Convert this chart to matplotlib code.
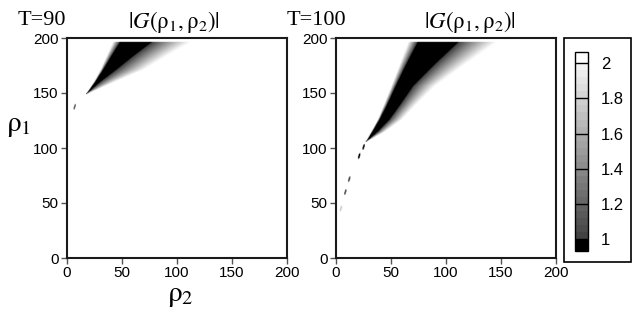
import numpy as np
import matplotlib
matplotlib.use("Agg")
import matplotlib.pyplot as plt
from matplotlib.colors import ListedColormap, BoundaryNorm, LinearSegmentedColormap, Normalize
from matplotlib.cm import ScalarMappable
from matplotlib.patches import Rectangle

plt.rcParams['font.family'] = ['Liberation Sans', 'DejaVu Sans']
plt.rcParams['mathtext.fontset'] = 'stix'

# ---- data ----
# T = 90 panel: wedge edges (rho2) at given rho1 levels
rho1_90 = [148.8, 160.0, 171.5, 184.0, 196.4]
fade_l_90 = [17.3, 24.5, 30.6, 36.0, 41.5]
black_l_90 = [17.3, 25.5, 33.0, 40.5, 48.2]
black_r_90 = [17.3, 30.0, 45.0, 60.5, 77.0]
fade_r_90 = [17.3, 44.0, 72.0, 93.0, 115.0]
# isolated flecks: rho2, rho1, value
fleck_r2_90 = [7.0]
fleck_r1_90 = [137.5]
fleck_v_90 = [1.15]

# T = 100 panel
rho1_100 = [105.5, 115.0, 126.0, 140.0, 156.4, 175.0, 196.4]
fade_l_100 = [27.0, 32.0, 37.9, 43.5, 50.0, 57.0, 65.0]
black_l_100 = [27.0, 33.0, 39.4, 46.5, 54.0, 63.0, 74.0]
black_r_100 = [27.0, 38.0, 48.5, 58.5, 69.7, 88.0, 110.6]
fade_r_100 = [27.0, 45.0, 60.6, 74.0, 91.0, 117.0, 148.0]
fleck_r2_100 = [25.0, 21.0, 12.0, 8.5, 4.5]
fleck_r1_100 = [101.0, 92.7, 71.8, 60.0, 45.0]
fleck_v_100 = [0.95, 0.95, 1.05, 1.05, 1.75]

titles = ['T=90', 'T=100']
ticks = [0, 50, 100, 150, 200]
cbar_ticks = [1, 1.2, 1.4, 1.6, 1.8, 2]
cbar_labels = ['1', '1.2', '1.4', '1.6', '1.8', '2']
vmin, vmax = 0.935, 2.065


def gray_of(v):
    if v < 1.0:
        return max(0.0, 0.25 * (v - 0.95) / 0.05)
    return min(1.0, 0.25 + 0.72 * (v - 1.0))


# banded colormap for the colorbar
bounds = [vmin] + list(np.round(np.arange(1.0, 2.0001, 0.04), 4)) + [vmax]
cols = ['black']
for lo, hi in zip(bounds[1:-2], bounds[2:-1]):
    g = gray_of(0.5 * (lo + hi))
    cols.append((g, g, g))
cols.append((1, 1, 1))
cmap_bar = ListedColormap(cols)
norm_bar = BoundaryNorm(bounds, cmap_bar.N)

# smooth colormap for the images
vs = np.linspace(vmin, vmax, 200)
cmap_img = LinearSegmentedColormap.from_list(
    'g', [((v - vmin) / (vmax - vmin), (gray_of(v),) * 3) for v in vs])
norm_img = Normalize(vmin, vmax)

res = 0.5
r2 = np.arange(0, 200, res) + res / 2
r1 = np.arange(0, 200, res) + res / 2
R2, R1 = np.meshgrid(r2, r1)


def build_field(levels, fl, bl, br, fr, fx, fy, fv):
    F = np.full(R2.shape, 2.1)
    for i, y in enumerate(r1):
        if y < levels[0] or y > levels[-1]:
            continue
        a = np.interp(y, levels, fl)
        b = np.interp(y, levels, bl)
        c = np.interp(y, levels, br)
        d = np.interp(y, levels, fr)
        x = r2
        row = np.full(x.shape, 2.1)
        inside = (x >= b - 0.3) & (x <= c + 0.3)
        row[inside] = 0.9
        left = (x < b) & (x >= a)
        if b - a > 0:
            t = (b - x[left]) / (b - a)
            row[left] = 0.95 + 1.15 * t
        right = (x > c) & (x <= d)
        if d - c > 0:
            t = (x[right] - c) / (d - c)
            row[right] = 0.95 + 1.15 * t ** 0.85
        F[i] = np.minimum(F[i], row)
    for x0, y0, v in zip(fx, fy, fv):
        mask = ((R2 - x0 - 0.25 * (R1 - y0)) / 0.8) ** 2 + ((R1 - y0) / 2.6) ** 2 < 1
        F[mask] = np.minimum(F[mask], v)
    return F


fields = [
    build_field(rho1_90, fade_l_90, black_l_90, black_r_90, fade_r_90,
                fleck_r2_90, fleck_r1_90, fleck_v_90),
    build_field(rho1_100, fade_l_100, black_l_100, black_r_100, fade_r_100,
                fleck_r2_100, fleck_r1_100, fleck_v_100),
]

fig = plt.figure(figsize=(6.32, 3.17), dpi=100)
W, H = 632.0, 317.0
ax_pos = [[67 / W, 1 - 258 / H, 220 / W, 220 / H],
          [336 / W, 1 - 258 / H, 220 / W, 220 / H]]
title_x = [174, 470]

for k in range(2):
    ax = fig.add_axes(ax_pos[k])
    ax.imshow(fields[k], origin='lower', extent=[0, 200, 0, 200],
              cmap=cmap_img, norm=norm_img, aspect='auto', interpolation='bilinear')
    ax.set_xlim(0, 200)
    ax.set_ylim(0, 200)
    ax.set_xticks(ticks)
    ax.set_yticks(ticks)
    ax.tick_params(direction='out', length=4, width=1, color='#555555',
                   labelsize=11, pad=2)
    for s in ax.spines.values():
        s.set_linewidth(1.5)
        s.set_color('#1a1a1a')
    fig.text((ax_pos[k][0] * W - 49) / W, 1 - 25 / H, titles[k],
             family='Liberation Serif', fontsize=16, va='baseline', ha='left')
    fig.text(title_x[k] / W, 1 - 28 / H, r'$|G(\mathrm{ρ}_1,\mathrm{ρ}_2)|$',
             fontsize=16.5, va='baseline', ha='center')

fig.text(18 / W, 1 - 125 / H, r'$\mathrm{ρ}_1$', fontsize=21, ha='center', va='center')
fig.text(180 / W, 1 - 295 / H, r'$\mathrm{ρ}_2$', fontsize=21, ha='center', va='center')

# colorbar frame
fig.patches.append(Rectangle((564 / W, 1 - 261.7 / H), 66.7 / W, 223.7 / H,
                             transform=fig.transFigure, fill=False,
                             edgecolor='black', linewidth=1.2))
cax = fig.add_axes([575 / W, 1 - 250.7 / H, 13.3 / W, 199 / H])
sm = ScalarMappable(norm=norm_bar, cmap=cmap_bar)
cb = fig.colorbar(sm, cax=cax, ticks=cbar_ticks, spacing='proportional')
cb.ax.minorticks_off()
cb.ax.set_yticklabels(cbar_labels)
cb.ax.tick_params(length=0, labelsize=12, pad=9)
cb.outline.set_linewidth(1.0)
for v in cbar_ticks:
    cb.ax.axhline(v, color='black', linewidth=1.0)

fig.savefig('out.png', dpi=100)
